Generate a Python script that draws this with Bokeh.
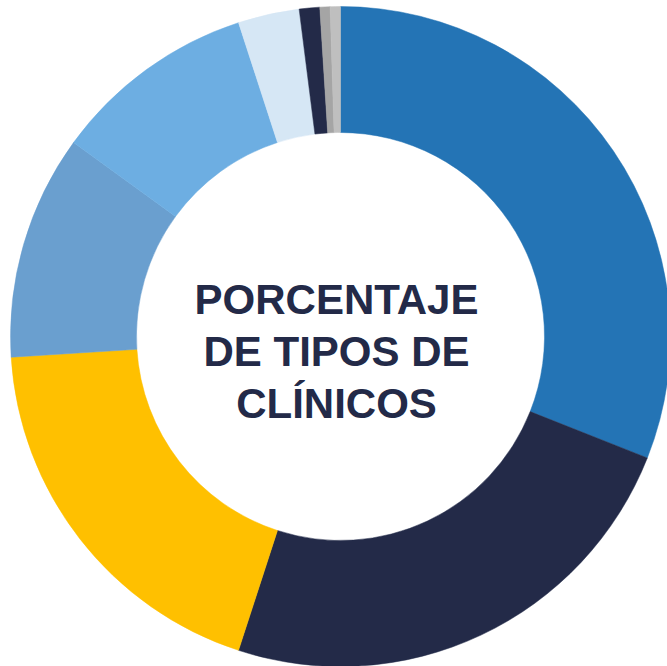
import math
from bokeh.plotting import figure
from bokeh.models import ColumnDataSource
from bokeh.core.properties import value
from bokeh.embed import file_html
from bokeh.resources import INLINE

categories = ["Tipo 1", "Tipo 2", "Tipo 3", "Tipo 4", "Tipo 5", "Tipo 6", "Tipo 7", "Tipo 8", "Tipo 9"]
percentages = [31.0, 24.0, 19.0, 11.0, 10.0, 3.0, 1.0, 0.5, 0.5]
colors = ["#2474B5", "#232A48", "#FFC000", "#6A9FCF", "#6DAEE2", "#D6E7F5", "#232A48", "#A5A5A5", "#BFBFBF"]
title_lines = ["PORCENTAJE", "DE TIPOS DE", "CLÍNICOS"]

W, H = 667, 666
cx, cy = 340, 330
r_out, r_in = 330, 204

total = sum(percentages)
starts, ends = [], []
acc = 0.0
for v in percentages:
    starts.append(math.pi / 2 - acc / total * 2 * math.pi)
    acc += v
    ends.append(math.pi / 2 - acc / total * 2 * math.pi)

src = ColumnDataSource(dict(cat=categories, val=percentages, color=colors,
                            start=starts, end=ends))

p = figure(width=W, height=H, x_range=(0, W), y_range=(0, H),
           output_backend="svg", toolbar_location=None, min_border=0)
p.axis.visible = False
p.grid.visible = False
p.outline_line_color = None
p.background_fill_color = "white"

p.annular_wedge(x=cx, y=cy, inner_radius=r_in, outer_radius=r_out,
                start_angle="start", end_angle="end", direction="clock",
                fill_color="color", line_color="color", line_width=0.5, source=src)

base_y = [H - 299, H - 351, H - 403]
tsrc = ColumnDataSource(dict(x=[336] * 3, y=base_y, t=title_lines))
p.text(x="x", y="y", text="t", source=tsrc, text_align="center",
       text_baseline="alphabetic", text_font=value("Liberation Sans"),
       text_font_style="bold", text_font_size="42px", text_color="#232A48")

open("out.html", "w").write(file_html(p, INLINE))
